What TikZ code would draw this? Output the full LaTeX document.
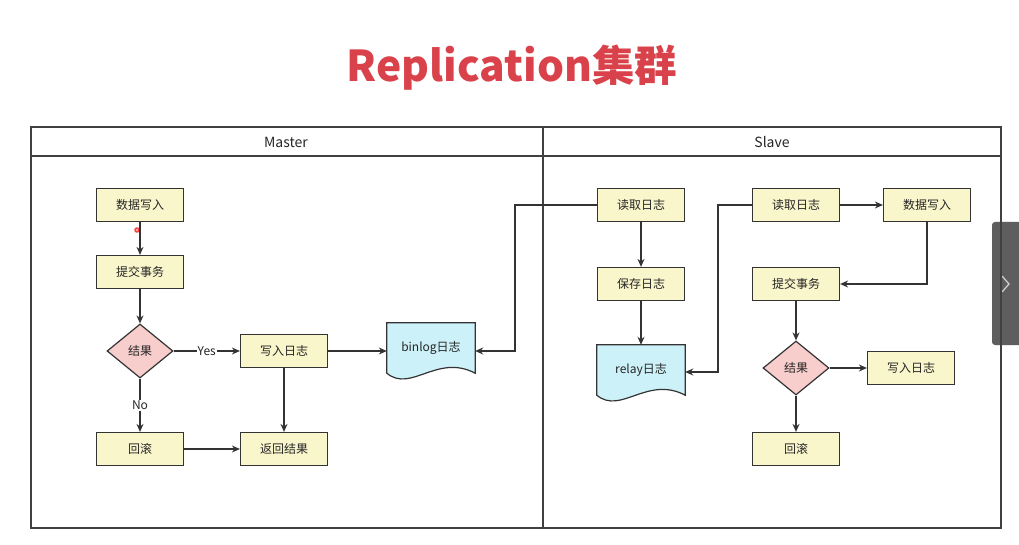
\documentclass[tikz,border=0pt]{standalone}
\usepackage{fontspec}
\setmainfont{Noto Sans CJK SC}
\usetikzlibrary{arrows.meta,calc,backgrounds,shapes.geometric}
\definecolor{boxfill}{HTML}{FAF6CC}
\definecolor{diafill}{HTML}{F8CECC}
\definecolor{docfill}{HTML}{CDF1F8}
\definecolor{linec}{HTML}{333333}
\definecolor{titlered}{HTML}{D9424A}
\definecolor{tabgray}{HTML}{5E5E5E}
\tikzset{
  every node/.style={font=\fontsize{12}{14}\selectfont, text=black!85},
  procbox/.style={draw=linec, line width=1.2pt, fill=boxfill, minimum width=87pt, minimum height=33pt, inner sep=0pt},
  decision/.style={diamond, draw=linec, line width=1.2pt, fill=diafill, minimum width=66pt, minimum height=54pt, inner sep=0pt},
  docnode/.style={minimum width=88pt, inner sep=0pt},
  docshape/.style={draw=linec, line width=1.2pt, fill=docfill},
  flow/.style={draw=linec, line width=1.2pt, -{Stealth[length=8pt,width=7pt]}},
  lane/.style={draw=black!75, line width=1.4pt},
  edgelabel/.style={fill=white, inner sep=1pt, font=\fontsize{12}{14}\selectfont}
}
\begin{document}
\begin{tikzpicture}[x=1pt,y=-1pt]
\useasboundingbox (0,0) rectangle (1019,545);
\begin{scope}[on background layer]
\fill[white] (0,0) rectangle (1019,545);
\end{scope}
% title
\node[font=\fontsize{42.5}{48}\selectfont\bfseries, text=titlered] (title) at (512,68) {Replication集群};
% right navigation tab
\fill[tabgray, rounded corners=3pt] (992,222) rectangle (1025,345);
\draw[gray!40, line width=1.3pt] (1002,276) -- (1009,284) -- (1002,292);
% lanes
\draw[lane] (31,127) rectangle (1001,528);
\draw[lane] (31,156) -- (1001,156);
\draw[lane] (543,127) -- (543,528);
\node[font=\fontsize{14}{16}\selectfont] (master) at (286,142) {Master};
\node[font=\fontsize{14}{16}\selectfont] (slave) at (772,142) {Slave};

% Master nodes
\node[procbox] (mw) at (140,205) {数据写入};
\node[procbox] (mc) at (140,272) {提交事务};
\node[decision] (mr) at (140,351) {结果};
\node[procbox] (ml) at (284,351) {写入日志};
\node[procbox] (mb) at (140,449) {回滚};
\node[procbox] (mret) at (284,449) {返回结果};
\node[docnode, minimum height=50pt] (binlog) at (431,348) {binlog日志};
\begin{scope}[on background layer]
\draw[docshape] (binlog.north west) -- (binlog.north east) -- (binlog.south east)
  .. controls ($(binlog.south east)+(-38,-20)$) and ($(binlog.south west)+(24,20)$) .. (binlog.south west) -- cycle;
\end{scope}

% Slave nodes
\node[procbox] (sr1) at (641,205) {读取日志};
\node[procbox] (ss) at (641,284) {保存日志};
\node[docnode, minimum height=50pt] (relay) at (641,370) {relay日志};
\begin{scope}[on background layer]
\draw[docshape] (relay.north west) -- (relay.north east) -- (relay.south east)
  .. controls ($(relay.south east)+(-38,-20)$) and ($(relay.south west)+(24,20)$) .. (relay.south west) -- cycle;
\end{scope}
\node[procbox] (sr2) at (796,205) {读取日志};
\node[procbox] (sw) at (927,205) {数据写入};
\node[procbox] (sc) at (796,284) {提交事务};
\node[decision] (sres) at (796,368) {结果};
\node[procbox] (sl) at (911,368) {写入日志};
\node[procbox] (sb) at (796,449) {回滚};

% pointer dot
\fill[red!75!white] (137,230) circle (2.8pt);
\fill[red!25!white] (137,230) circle (1.1pt);

% Master edges
\draw[flow] (mw) -- (mc);
\draw[flow] (mc) -- (mr);
\draw[flow] (mr) -- node[edgelabel] {Yes} (ml);
\draw[flow] (mr) -- node[edgelabel] {No} (mb);
\draw[flow] (ml.east) -- (ml.east -| binlog.west);
\draw[flow] (ml) -- (mret);
\draw[flow] (mb) -- (mret);

% Slave edges
\coordinate (c1) at (515,205);
\coordinate (c2) at (515,351);
\draw[flow] (sr1.west) -- (c1) -- (c2) -- (c2 -| binlog.east);
\draw[flow] (sr1) -- (ss);
\draw[flow] (ss) -- (relay);
\coordinate (c3) at (718,205);
\coordinate (c4) at (718,372);
\draw[flow] (sr2.west) -- (c3) -- (c4) -- (c4 -| relay.east);
\draw[flow] (sr2) -- (sw);
\coordinate (c5) at (927,284);
\draw[flow] (sw.south) -- (c5) -- (sc.east);
\draw[flow] (sc) -- (sres);
\draw[flow] (sres) -- (sl);
\draw[flow] (sres) -- (sb);
\end{tikzpicture}
\end{document}
